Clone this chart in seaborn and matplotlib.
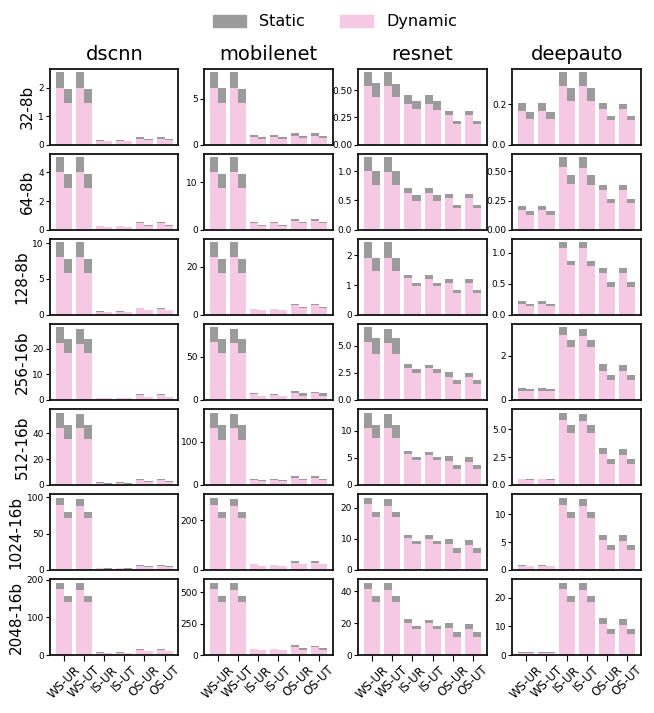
import numpy as np
import pandas as pd
import seaborn as sns
import matplotlib
matplotlib.use("Agg")
import matplotlib.pyplot as plt
from matplotlib.patches import Patch
from matplotlib.ticker import MaxNLocator

models = ["dscnn", "mobilenet", "resnet", "deepauto"]
configs = ["32-8b", "64-8b", "128-8b", "256-16b", "512-16b", "1024-16b", "2048-16b"]
dataflows = ["WS-UR", "WS-UT", "IS-UR", "IS-UT", "OS-UR", "OS-UT"]
variants = ["a", "b"]

# each row: 12 bars = (a, b) pair for every dataflow, one row per config
dscnn_dyn = [
    [2.0, 1.45, 2.0, 1.45, 0.14, 0.12, 0.14, 0.12, 0.21, 0.16, 0.21, 0.16],
    [4.0, 2.88, 4.0, 2.88, 0.23, 0.16, 0.23, 0.16, 0.44, 0.26, 0.44, 0.26],
    [8.0, 5.79, 8.0, 5.79, 0.37, 0.32, 0.37, 0.32, 0.90, 0.62, 0.79, 0.60],
    [22.5, 18.2, 22.1, 18.2, 0.8, 0.8, 0.8, 0.8, 1.7, 1.0, 1.7, 1.0],
    [44.6, 35.4, 43.9, 35.4, 1.8, 1.0, 1.8, 1.0, 3.6, 2.3, 3.6, 2.3],
    [89.9, 72.0, 88.5, 72.0, 2.75, 1.8, 2.75, 1.8, 6.0, 4.6, 6.0, 4.6],
    [176, 141.6, 173.5, 141.6, 6.2, 4.4, 6.2, 4.4, 14.2, 9.7, 14.2, 9.7],
]
dscnn_static = [
    [0.54, 0.49, 0.54, 0.49, 0.035, 0.02, 0.035, 0.02, 0.05, 0.03, 0.05, 0.03],
    [1.05, 0.98, 1.05, 0.98, 0.05, 0.05, 0.05, 0.05, 0.07, 0.04, 0.07, 0.04],
    [2.1, 1.94, 2.1, 1.94, 0.14, 0.05, 0.13, 0.05, 0.03, 0.03, 0.14, 0.05],
    [5.9, 5.5, 5.9, 5.5, 0.1, 0.1, 0.1, 0.1, 0.4, 0.3, 0.4, 0.3],
    [11.7, 11.6, 11.6, 11.6, 0.3, 0.3, 0.3, 0.3, 0.8, 0.5, 0.8, 0.5],
    [9.6, 8.3, 9.7, 8.3, 0.45, 0.5, 0.45, 0.5, 1.3, 0.4, 1.3, 0.4],
    [16, 15.9, 18.5, 15.9, 2.6, 1.8, 2.6, 1.8, 2.6, 1.8, 2.6, 1.8],
]

mobilenet_dyn = [
    [6.24, 4.53, 6.24, 4.53, 0.84, 0.62, 0.84, 0.62, 0.99, 0.69, 0.99, 0.69],
    [12.1, 8.73, 12.1, 8.73, 1.34, 0.85, 1.34, 0.85, 1.90, 1.34, 1.90, 1.34],
    [23.9, 17.2, 23.9, 17.2, 2.2, 1.8, 2.2, 1.8, 4.0, 2.9, 4.0, 2.9],
    [66.7, 53.9, 65.5, 53.9, 6.2, 4.65, 5.8, 4.65, 8.5, 5.0, 7.4, 5.0],
    [133, 105, 131, 105, 12.3, 10, 12.3, 10, 16.2, 11.5, 16.2, 11.5],
    [263, 211, 259, 211, 23.5, 16.1, 20.1, 16.1, 29.5, 22.8, 29.5, 22.8],
    [528, 424, 520, 424, 48, 40, 48, 40, 66, 42, 66, 42],
]
mobilenet_static = [
    [1.68, 1.64, 1.68, 1.53, 0.18, 0.18, 0.18, 0.18, 0.25, 0.22, 0.25, 0.22],
    [3.2, 2.97, 3.2, 2.97, 0.21, 0.21, 0.21, 0.21, 0.28, 0.21, 0.28, 0.21],
    [6.2, 5.8, 6.2, 5.8, 0.4, 0.1, 0.4, 0.1, 0.4, 0.3, 0.4, 0.3],
    [17.4, 16.3, 17.4, 16.3, 1.2, 0.35, 0.4, 0.35, 1.2, 2.4, 2.0, 2.4],
    [34.7, 35, 34, 35, 0.8, 0.8, 0.8, 0.8, 3.8, 1.6, 3.8, 1.6],
    [28, 24, 28, 24, 2.0, 1.3, 1.4, 1.3, 8.1, 2.7, 8.1, 2.7],
    [47, 48, 55, 48, 2, 2, 2, 2, 16, 16, 8, 16],
]

resnet_dyn = [
    [0.537, 0.436, 0.537, 0.436, 0.371, 0.325, 0.371, 0.316, 0.27, 0.187, 0.27, 0.187],
    [1.0, 0.763, 0.99, 0.763, 0.627, 0.49, 0.627, 0.49, 0.542, 0.373, 0.542, 0.373],
    [1.93, 1.46, 1.93, 1.46, 1.25, 0.96, 1.22, 0.96, 1.06, 0.73, 1.06, 0.73],
    [5.31, 4.29, 5.22, 4.29, 2.99, 2.53, 2.99, 2.53, 2.16, 1.42, 2.16, 1.42],
    [10.55, 8.54, 10.37, 8.54, 5.61, 4.51, 5.43, 4.51, 4.33, 2.87, 4.15, 2.87],
    [21.1, 16.9, 20.75, 16.9, 10.4, 8.5, 10.1, 8.5, 8.5, 5.6, 8.2, 5.6],
    [41.6, 33.5, 41.0, 33.5, 20.3, 16.5, 20.3, 16.5, 17.2, 11.5, 16.5, 11.5],
]
resnet_static = [
    [0.126, 0.128, 0.126, 0.119, 0.083, 0.074, 0.083, 0.083, 0.04, 0.028, 0.04, 0.028],
    [0.237, 0.237, 0.247, 0.237, 0.085, 0.11, 0.085, 0.11, 0.068, 0.057, 0.068, 0.057],
    [0.51, 0.47, 0.51, 0.47, 0.08, 0.10, 0.11, 0.10, 0.14, 0.10, 0.14, 0.10],
    [1.39, 1.39, 1.38, 1.39, 0.37, 0.28, 0.28, 0.28, 0.46, 0.46, 0.37, 0.46],
    [2.75, 2.56, 2.73, 2.56, 0.55, 0.55, 0.55, 0.55, 0.91, 0.73, 0.91, 0.73],
    [2.2, 1.9, 2.25, 1.9, 1.0, 0.96, 1.3, 0.96, 1.6, 1.6, 1.6, 1.6],
    [3.8, 3.7, 4.4, 3.7, 2.5, 1.9, 1.9, 1.9, 3.1, 3.1, 3.2, 3.1],
]

deepauto_dyn = [
    [0.165, 0.126, 0.165, 0.126, 0.289, 0.215, 0.289, 0.215, 0.175, 0.121, 0.175, 0.121],
    [0.17, 0.127, 0.17, 0.127, 0.534, 0.39, 0.528, 0.385, 0.339, 0.229, 0.339, 0.229],
    [0.172, 0.14, 0.172, 0.14, 1.075, 0.80, 1.075, 0.79, 0.672, 0.446, 0.672, 0.446],
    [0.42, 0.38, 0.42, 0.38, 2.97, 2.38, 2.92, 2.38, 1.33, 0.92, 1.33, 0.92],
    [0.5, 0.45, 0.5, 0.45, 5.86, 4.70, 5.77, 4.70, 2.74, 1.85, 2.65, 1.85],
    [0.78, 0.66, 0.78, 0.66, 11.74, 9.4, 11.56, 9.4, 5.45, 3.65, 5.27, 3.65],
    [0.81, 0.7, 0.81, 0.7, 23.1, 18.6, 22.8, 18.6, 10.9, 7.4, 10.6, 7.4],
]
deepauto_static = [
    [0.04, 0.036, 0.04, 0.036, 0.068, 0.064, 0.068, 0.064, 0.03, 0.019, 0.025, 0.019],
    [0.033, 0.034, 0.033, 0.034, 0.086, 0.076, 0.092, 0.081, 0.042, 0.034, 0.042, 0.034],
    [0.048, 0.032, 0.048, 0.032, 0.095, 0.066, 0.095, 0.076, 0.081, 0.081, 0.081, 0.081],
    [0.14, 0.09, 0.14, 0.09, 0.32, 0.32, 0.32, 0.32, 0.32, 0.23, 0.27, 0.23],
    [0.07, 0.05, 0.07, 0.05, 0.63, 0.63, 0.63, 0.63, 0.53, 0.44, 0.53, 0.44],
    [0.18, 0.12, 0.18, 0.12, 1.26, 1.08, 1.24, 1.08, 0.9, 0.9, 1.08, 0.9],
    [0.35, 0.35, 0.35, 0.35, 2.1, 2.1, 2.4, 2.1, 2.1, 1.8, 2.1, 1.8],
]

model_data = {
    "dscnn": (dscnn_dyn, dscnn_static),
    "mobilenet": (mobilenet_dyn, mobilenet_static),
    "resnet": (resnet_dyn, resnet_static),
    "deepauto": (deepauto_dyn, deepauto_static),
}

static_color = "#9b9b9b"
dynamic_color = "#f5c8e3"

fig, axes = plt.subplots(len(configs), len(models), figsize=(6.54, 7.13), dpi=100)
fig.subplots_adjust(left=0.0765, right=0.98, top=0.9037, bottom=0.0813,
                    wspace=0.2, hspace=0.12)

for j, model in enumerate(models):
    dyn, stat = model_data[model]
    for i, cfg in enumerate(configs):
        ax = axes[i, j]
        d = np.array(dyn[i])
        s = np.array(stat[i])
        df = pd.DataFrame({
            "dataflow": np.repeat(dataflows, 2),
            "variant": variants * len(dataflows),
            "dynamic": d,
            "total": d + s,
        })
        # static sits on top of dynamic: draw total in grey, then dynamic over it
        sns.barplot(data=df, x="dataflow", y="total", hue="variant", order=dataflows,
                    palette=[static_color] * 2, saturation=1, width=0.8,
                    errorbar=None, linewidth=0, legend=False, ax=ax)
        sns.barplot(data=df, x="dataflow", y="dynamic", hue="variant", order=dataflows,
                    palette=[dynamic_color] * 2, saturation=1, width=0.8,
                    errorbar=None, linewidth=0, legend=False, ax=ax)
        ax.set_xlim(-0.69, 5.69)
        ax.set_xlabel("")
        ax.set_ylabel(cfg if j == 0 else "", fontsize=11, labelpad=2)
        ax.yaxis.set_major_locator(MaxNLocator(3, steps=[1, 2, 2.5, 5, 10]))
        ax.tick_params(axis="y", labelsize=6.5, length=3, width=0.8, pad=1.5)
        if i == len(configs) - 1:
            ax.set_xticks(range(len(dataflows)))
            ax.set_xticklabels(dataflows, rotation=45, fontsize=8.5)
            ax.tick_params(axis="x", length=4, width=0.8, pad=2)
        else:
            ax.tick_params(axis="x", bottom=False, labelbottom=False)
        if i == 0:
            ax.set_title(model, fontsize=14)
        for sp in ax.spines.values():
            sp.set_linewidth(1.3)
            sp.set_color("#111111")

handles = [Patch(color=static_color, label="Static"),
           Patch(color=dynamic_color, label="Dynamic")]
fig.legend(handles=handles, loc="upper center", bbox_to_anchor=(0.512, 1.0), ncol=2,
           frameon=False, fontsize=11.5, handlelength=2.1, handleheight=0.8,
           columnspacing=2.2, handletextpad=0.8)

fig.savefig("out.png", dpi=100)
